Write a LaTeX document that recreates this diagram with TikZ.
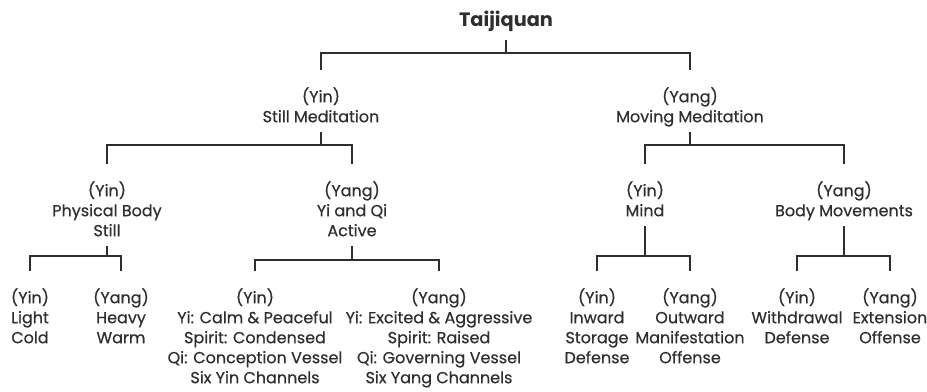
\documentclass[tikz,border=0pt]{standalone}
\usepackage{fontspec}
\setmainfont{Poppins}
\newfontfamily\lblfont{Poppins}[FakeBold=0.5]
\usepackage{tikz}
\usetikzlibrary{calc}
\usetikzlibrary{positioning}
\definecolor{ink}{HTML}{2E2E2E}
\tikzstyle{lbl} = [draw=none, inner sep = 0, align=center, anchor=north, text=ink,
  font=\lblfont\fontsize{12}{15}\selectfont, execute at begin node=\strut, execute at end node=\strut]
\tikzstyle{ttl} = [draw=none, inner sep = 0, anchor=base, text=ink, font=\fontsize{14.5}{16}\selectfont\bfseries]
\tikzstyle{branch} = [-, draw=ink, line width=1.5pt, shorten <=3pt, shorten >=13pt]

\begin{document}
\begin{tikzpicture}[x=0.75pt, y=-0.75pt]
\useasboundingbox (0,0) rectangle (927,392);
% bar heights
\coordinate (b0) at (506, 53);
\coordinate (b1) at (0, 145);
\coordinate (b2) at (0, 256);
\coordinate (b3) at (0, 260);

\node [ttl] (T) at (506, 27) {Taijiquan};

\node [lbl] (SM) at (321, 87) {(Yin)\\Still Meditation};
\node [lbl] (MM) at (690, 87) {(Yang)\\Moving Meditation};

\node [lbl] (PB) at (107, 181) {(Yin)\\Physical Body\\Still};
\node [lbl] (YQ) at (352, 181) {(Yang)\\Yi and Qi\\Active};
\node [lbl] (MI) at (645, 181) {(Yin)\\Mind};
\node [lbl] (BM) at (844, 181) {(Yang)\\Body Movements};

\node [lbl] (LC) at (30, 288) {(Yin)\\Light\\Cold};
\node [lbl] (HW) at (121, 288) {(Yang)\\Heavy\\Warm};
\node [lbl] (CP) at (255, 288) {(Yin)\\Yi: Calm \& Peaceful\\Spirit: Condensed\\Qi: Conception Vessel\\Six Yin Channels};
\node [lbl] (EA) at (439, 288) {(Yang)\\Yi: Excited \& Aggressive\\Spirit: Raised\\Qi: Governing Vessel\\Six Yang Channels};
\node [lbl] (IN) at (597, 288) {(Yin)\\Inward\\Storage\\Defense};
\node [lbl] (OU) at (690, 288) {(Yang)\\Outward\\Manifestation\\Offense};
\node [lbl] (WD) at (797, 288) {(Yin)\\Withdrawal\\Defense};
\node [lbl] (EX) at (890, 288) {(Yang)\\Extension\\Offense};

\draw [branch, shorten <=6pt] (T.south) -- (T.south |- b0) -| (SM.north);
\draw [branch, shorten <=6pt] (T.south) -- (T.south |- b0) -| (MM.north);

\draw [branch] (SM.south) -- (SM.south |- b1) -| (PB.north);
\draw [branch] (SM.south) -- (SM.south |- b1) -| (YQ.north);
\draw [branch] (MM.south) -- (MM.south |- b1) -| (MI.north);
\draw [branch] (MM.south) -- (MM.south |- b1) -| (BM.north);

\draw [branch] (PB.south) -- (PB.south |- b2) -| (LC.north);
\draw [branch] (PB.south) -- (PB.south |- b2) -| (HW.north);
\draw [branch] (YQ.south) -- (YQ.south |- b3) -| (CP.north);
\draw [branch] (YQ.south) -- (YQ.south |- b3) -| (EA.north);
\draw [branch] (MI.south) -- (MI.south |- b2) -| (IN.north);
\draw [branch] (MI.south) -- (MI.south |- b2) -| (OU.north);
\draw [branch] (BM.south) -- (BM.south |- b2) -| (WD.north);
\draw [branch] (BM.south) -- (BM.south |- b2) -| (EX.north);
\end{tikzpicture}
\end{document}
